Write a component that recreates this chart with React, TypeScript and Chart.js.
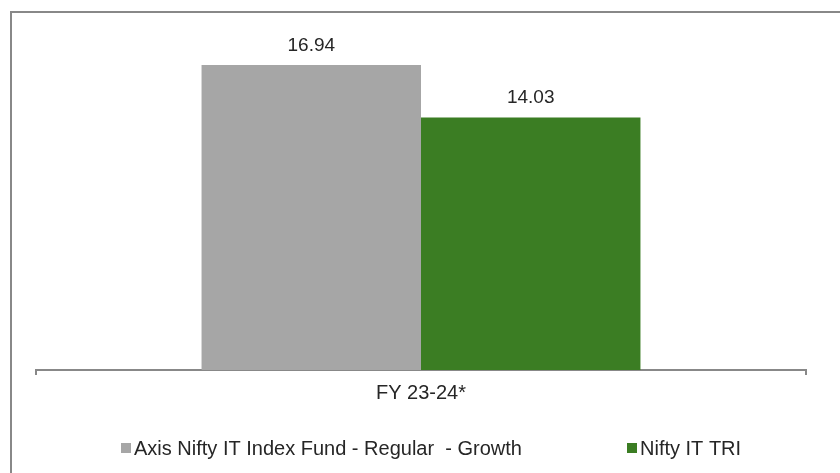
import React, { useEffect, useRef } from "react";
import { Chart, registerables } from "chart.js";

Chart.register(...registerables);

const categories = ["FY 23-24*"];
const seriesNames = ["Axis Nifty IT Index Fund - Regular  - Growth", "Nifty IT TRI"];
const fundValues = [16.94];
const benchmarkValues = [14.03];
const seriesColors = ["#a6a6a6", "#3b7d23"];

const FONT = "'Liberation Sans', Arial, sans-serif";
const TEXT = "#262626";
const LINE = "#888888";

export default function App() {
  const ref = useRef<HTMLCanvasElement>(null);

  useEffect(() => {
    document.body.style.margin = "0";
    const canvas = ref.current;
    if (!canvas) return;

    const framePlugin = {
      id: "frame",
      beforeDraw(chart: any) {
        const c = chart.ctx;
        c.save();
        c.fillStyle = "#ffffff";
        c.fillRect(0, 0, chart.width, chart.height);
        c.strokeStyle = LINE;
        c.lineWidth = 2;
        c.beginPath();
        c.moveTo(11, chart.height + 5);
        c.lineTo(11, 12);
        c.lineTo(chart.width + 5, 12);
        c.stroke();
        c.restore();
      },
    };

    const valueLabels = {
      id: "valueLabels",
      afterDatasetsDraw(chart: any) {
        const c = chart.ctx;
        c.save();
        c.font = `19px ${FONT}`;
        c.fillStyle = TEXT;
        c.textAlign = "center";
        c.textBaseline = "alphabetic";
        chart.data.datasets.forEach((ds: any, i: number) => {
          const meta = chart.getDatasetMeta(i);
          meta.data.forEach((el: any, j: number) => {
            c.fillText(Number(ds.data[j]).toFixed(2), el.x, el.y - 14);
          });
        });
        c.restore();
      },
    };

    const legendPositions = [121, 627];
    const customLegend = {
      id: "customLegend",
      afterDraw(chart: any) {
        const c = chart.ctx;
        c.save();
        c.font = `20px ${FONT}`;
        c.textAlign = "left";
        c.textBaseline = "middle";
        chart.data.datasets.forEach((ds: any, i: number) => {
          const x = legendPositions[i];
          const y = 448;
          c.fillStyle = ds.backgroundColor;
          c.fillRect(x, y - 5, 10, 10);
          c.fillStyle = TEXT;
          c.fillText(ds.label, x + 13, y + 1);
        });
        c.restore();
      },
    };

    const chart = new Chart(canvas, {
      type: "bar",
      data: {
        labels: categories,
        datasets: [
          {
            label: seriesNames[0],
            data: fundValues,
            backgroundColor: seriesColors[0],
            barPercentage: 1,
            categoryPercentage: 0.57,
          },
          {
            label: seriesNames[1],
            data: benchmarkValues,
            backgroundColor: seriesColors[1],
            barPercentage: 1,
            categoryPercentage: 0.57,
          },
        ],
      },
      options: {
        responsive: false,
        devicePixelRatio: 1,
        animation: false,
        layout: { padding: { left: 36, right: 34, top: 10, bottom: 0 } },
        plugins: {
          legend: { display: false },
          tooltip: { enabled: false },
        },
        scales: {
          x: {
            grid: {
              display: true,
              drawOnChartArea: false,
              drawTicks: true,
              tickLength: 5,
              color: LINE,
              lineWidth: 2,
              offset: true,
            },
            border: { display: true, color: LINE, width: 2 },
            ticks: { color: TEXT, font: { size: 20, family: FONT }, padding: 6 },
            afterFit(scale: any) {
              scale.height = 103;
            },
          },
          y: { display: false, min: 0, max: 20 },
        },
      },
      plugins: [framePlugin, valueLabels, customLegend],
    });

    return () => chart.destroy();
  }, []);

  return (
    <div style={{ position: "fixed", left: 0, top: 0, width: 840, height: 473, background: "#fff" }}>
      <canvas ref={ref} width={840} height={473} style={{ display: "block" }} />
    </div>
  );
}
